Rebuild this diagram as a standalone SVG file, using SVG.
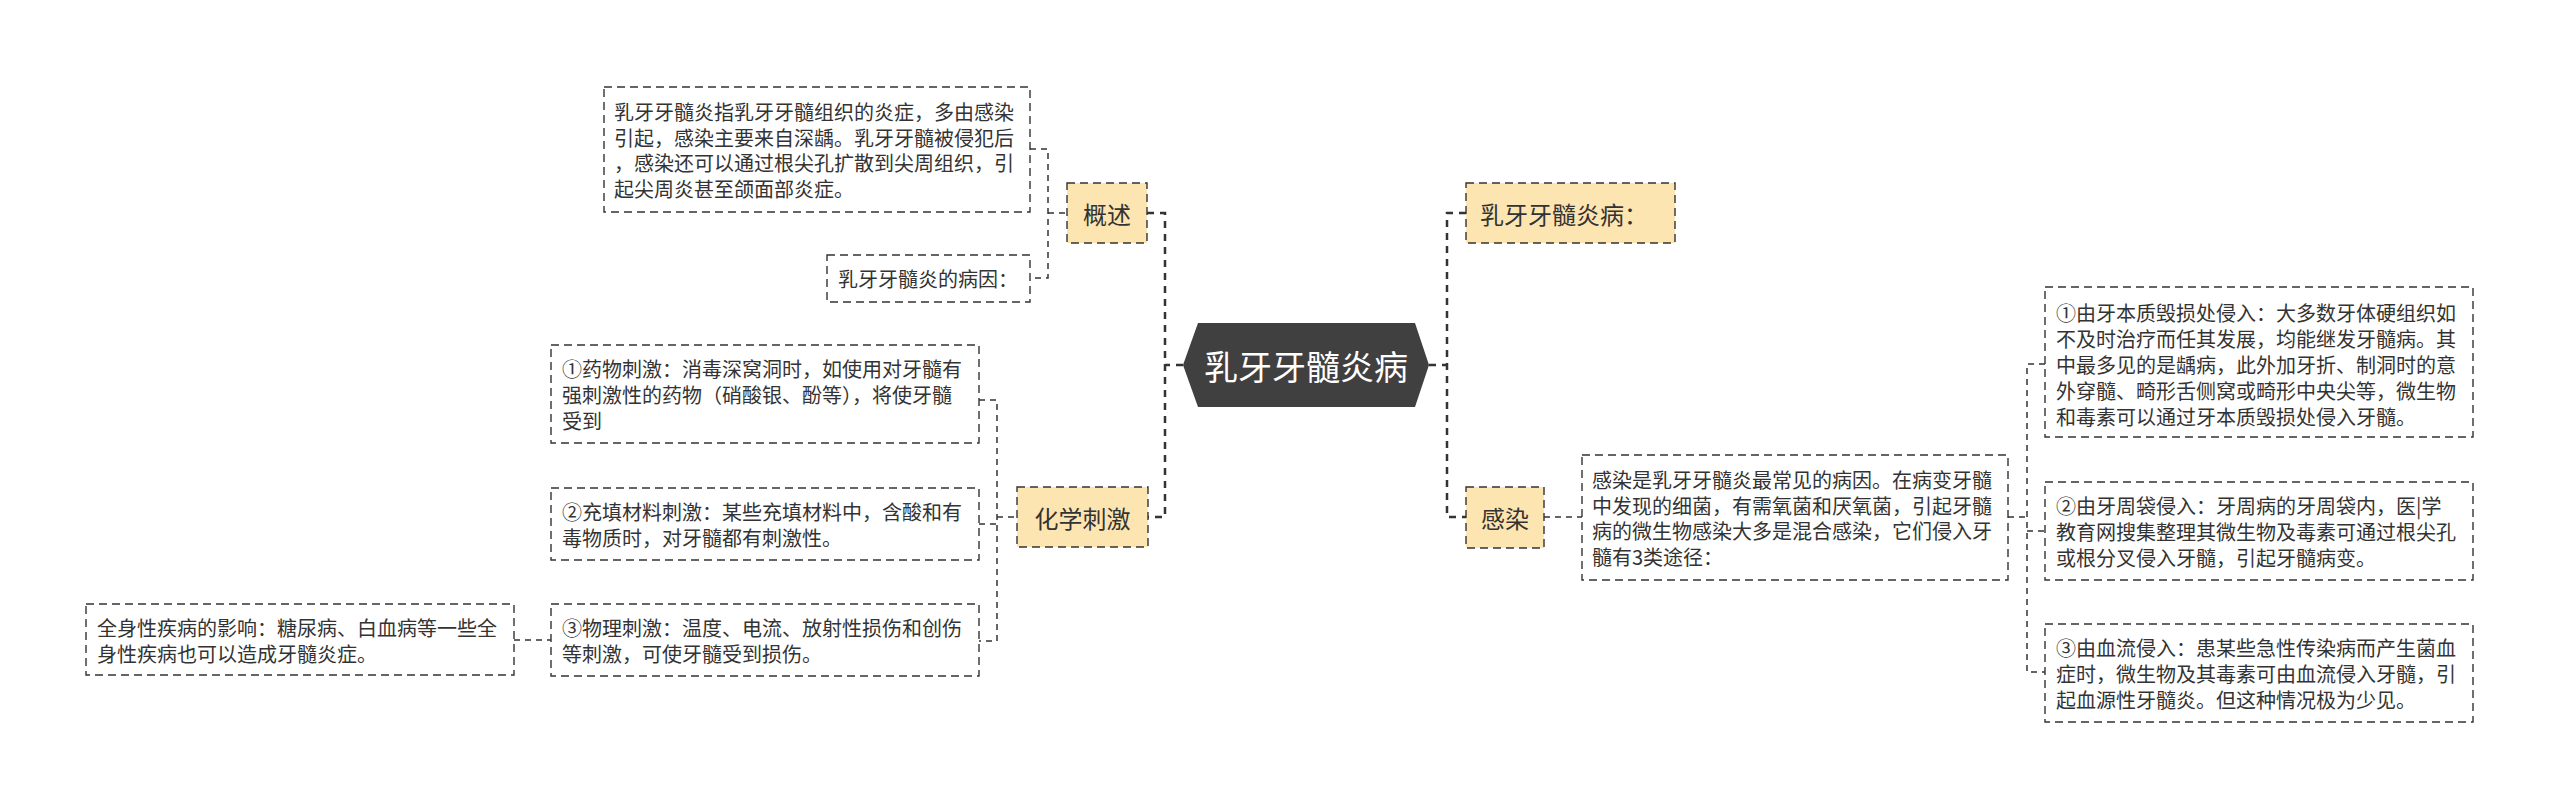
<svg xmlns="http://www.w3.org/2000/svg" width="2560" height="810" viewBox="0 0 2560 810">
<style>
.box{fill:#fff;stroke:#333;stroke-width:1.4;stroke-dasharray:8 5}
.topic{fill:#FDE5B2;stroke:#333;stroke-width:1.4;stroke-dasharray:8 5}
.t{font-family:"Noto Sans CJK SC","Microsoft YaHei",sans-serif;font-size:20px;fill:#333;dominant-baseline:central}
.tt{font-family:"Noto Sans CJK SC","Microsoft YaHei",sans-serif;font-size:24px;fill:#333;dominant-baseline:central}
.root-t{font-family:"Noto Sans CJK SC","Microsoft YaHei",sans-serif;font-size:34px;fill:#fff;dominant-baseline:central;text-anchor:middle}
.c{fill:none;stroke:#333;stroke-width:1.5;stroke-dasharray:6 5}
.trunk{fill:none;stroke:#333;stroke-width:2.5;stroke-dasharray:7 6}
</style>
<rect width="2560" height="810" fill="#fff"/>
<g id="connectors">
  <path class="c" d="M1030 149H1048V278H1030M1048 213H1067"/>
  <path class="trunk" d="M1147 213H1165V517H1148M1183 365H1165"/>
  <path class="c" d="M979 400H997V641H979M979 524H997M997 517H1017"/>
  <path class="c" d="M514 640H551"/>
  <path class="trunk" d="M1429 365H1447M1466 213H1447V517H1466"/>
  <path class="c" d="M1544 517H1582"/>
  <path class="c" d="M2008 517H2027M2045 364H2027V672H2045M2027 531H2045"/>
</g>
<g id="root">
  <polygon points="1183,365 1198,323 1415,323 1429,365 1415,407 1198,407" fill="#404040"/>
  <text class="root-t" x="1306" y="365">乳牙牙髓炎病</text>
</g>
<g id="n-gaishu">
  <rect class="topic" x="1067" y="183" width="80" height="60"/>
  <text class="tt" x="1107" y="213" text-anchor="middle">概述</text>
</g>
<g id="n-overview">
  <rect class="box" x="604" y="87" width="426" height="125"/>
  <text class="t" x="614" y="111">乳牙牙髓炎指乳牙牙髓组织的炎症，多由感染</text>
  <text class="t" x="614" y="137">引起，感染主要来自深龋。乳牙牙髓被侵犯后</text>
  <text class="t" x="614" y="162">，感染还可以通过根尖孔扩散到尖周组织，引</text>
  <text class="t" x="614" y="188">起尖周炎甚至颌面部炎症。</text>
</g>
<g id="n-bingyin">
  <rect class="box" x="827" y="255" width="203" height="47"/>
  <text class="t" x="838" y="278.5">乳牙牙髓炎的病因：</text>
</g>
<g id="n-huaxue">
  <rect class="topic" x="1017" y="487" width="131" height="60"/>
  <text class="tt" x="1082.5" y="517" text-anchor="middle">化学刺激</text>
</g>
<g id="n-yaowu">
  <rect class="box" x="551" y="345" width="428" height="98"/>
  <text class="t" x="562" y="368">①药物刺激：消毒深窝洞时，如使用对牙髓有</text>
  <text class="t" x="562" y="394">强刺激性的药物（硝酸银、酚等），将使牙髓</text>
  <text class="t" x="562" y="420">受到</text>
</g>
<g id="n-chongtian">
  <rect class="box" x="551" y="488" width="428" height="72"/>
  <text class="t" x="562" y="511">②充填材料刺激：某些充填材料中，含酸和有</text>
  <text class="t" x="562" y="537">毒物质时，对牙髓都有刺激性。</text>
</g>
<g id="n-wuli">
  <rect class="box" x="551" y="604" width="428" height="72"/>
  <text class="t" x="562" y="627">③物理刺激：温度、电流、放射性损伤和创伤</text>
  <text class="t" x="562" y="653">等刺激，可使牙髓受到损伤。</text>
</g>
<g id="n-quanshen">
  <rect class="box" x="86" y="604" width="428" height="71"/>
  <text class="t" x="97" y="627">全身性疾病的影响：糖尿病、白血病等一些全</text>
  <text class="t" x="97" y="653">身性疾病也可以造成牙髓炎症。</text>
</g>
<g id="n-title">
  <rect class="topic" x="1466" y="183" width="209" height="60"/>
  <text class="tt" x="1480" y="213">乳牙牙髓炎病：</text>
</g>
<g id="n-ganran">
  <rect class="topic" x="1466" y="487" width="78" height="61"/>
  <text class="tt" x="1505" y="517.5" text-anchor="middle">感染</text>
</g>
<g id="n-ganran-desc">
  <rect class="box" x="1582" y="455" width="426" height="125"/>
  <text class="t" x="1592" y="479">感染是乳牙牙髓炎最常见的病因。在病变牙髓</text>
  <text class="t" x="1592" y="505">中发现的细菌，有需氧菌和厌氧菌，引起牙髓</text>
  <text class="t" x="1592" y="530">病的微生物感染大多是混合感染，它们侵入牙</text>
  <text class="t" x="1592" y="556">髓有3类途径：</text>
</g>
<g id="n-route1">
  <rect class="box" x="2045" y="287" width="428" height="150"/>
  <text class="t" x="2056" y="312">①由牙本质毁损处侵入：大多数牙体硬组织如</text>
  <text class="t" x="2056" y="338">不及时治疗而任其发展，均能继发牙髓病。其</text>
  <text class="t" x="2056" y="364">中最多见的是龋病，此外加牙折、制洞时的意</text>
  <text class="t" x="2056" y="390">外穿髓、畸形舌侧窝或畸形中央尖等，微生物</text>
  <text class="t" x="2056" y="416">和毒素可以通过牙本质毁损处侵入牙髓。</text>
</g>
<g id="n-route2">
  <rect class="box" x="2045" y="482" width="428" height="98"/>
  <text class="t" x="2056" y="505">②由牙周袋侵入：牙周病的牙周袋内，医|学</text>
  <text class="t" x="2056" y="531">教育网搜集整理其微生物及毒素可通过根尖孔</text>
  <text class="t" x="2056" y="557">或根分叉侵入牙髓，引起牙髓病变。</text>
</g>
<g id="n-route3">
  <rect class="box" x="2045" y="624" width="428" height="98"/>
  <text class="t" x="2056" y="647">③由血流侵入：患某些急性传染病而产生菌血</text>
  <text class="t" x="2056" y="673">症时，微生物及其毒素可由血流侵入牙髓，引</text>
  <text class="t" x="2056" y="699">起血源性牙髓炎。但这种情况极为少见。</text>
</g>
</svg>
